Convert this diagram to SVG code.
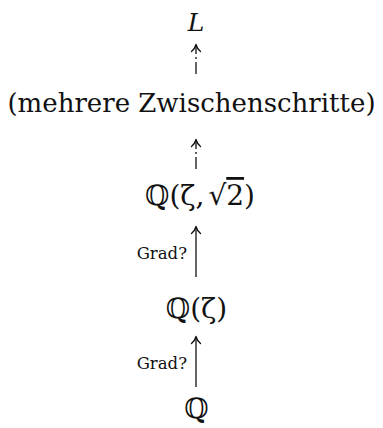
<svg xmlns="http://www.w3.org/2000/svg" width="383" height="428" viewBox="0 0 383 428">
<style>
.t{font-family:"DejaVu Serif","Liberation Serif",serif;fill:#111;text-anchor:middle}
.m{font-size:28px}
.s{font-family:"DejaVu Serif","Liberation Serif",serif;font-size:16.5px;fill:#111;text-anchor:end}
.ln{stroke:#111;stroke-width:1.3;fill:none}
.hd{stroke:#111;stroke-width:1.3;fill:none;stroke-linecap:round;stroke-linejoin:round}
</style>
<rect width="383" height="428" fill="#fff"/>
<g id="node-L"><text class="t" x="196" y="31" font-size="25px" font-style="italic">L</text></g>
<g id="node-zwischen"><text class="t" x="191.5" y="112" font-size="26px">(mehrere Zwischenschritte)</text></g>
<g id="node-Qzs"><text class="t m" x="200" y="205">ℚ(ζ,<tspan dx="4">√</tspan><tspan text-decoration="overline">2</tspan>)</text></g>
<g id="node-Qz"><text class="t m" x="196.5" y="318">ℚ(ζ)</text></g>
<g id="node-Q"><text class="t m" x="196.5" y="418">ℚ</text></g>
<g id="connectors">
<path class="ln" d="M196 74 V46" stroke-dasharray="12 3 2 3"/>
<path class="hd" d="M191.5 51.5 Q195 48.5 196 44.5 Q197 48.5 200.5 51.5"/>
<path class="ln" d="M196 169 V141" stroke-dasharray="12 3 2 3"/>
<path class="hd" d="M191.5 146.5 Q195 143.5 196 139.5 Q197 143.5 200.5 146.5"/>
<path class="ln" d="M196 277 V228"/>
<path class="hd" d="M191.5 233.5 Q195 230.5 196 226.5 Q197 230.5 200.5 233.5"/>
<text class="s" x="187" y="259">Grad?</text>
<path class="ln" d="M196 387 V338"/>
<path class="hd" d="M191.5 343.5 Q195 340.5 196 336.5 Q197 340.5 200.5 343.5"/>
<text class="s" x="187" y="369">Grad?</text>
</g>
</svg>
